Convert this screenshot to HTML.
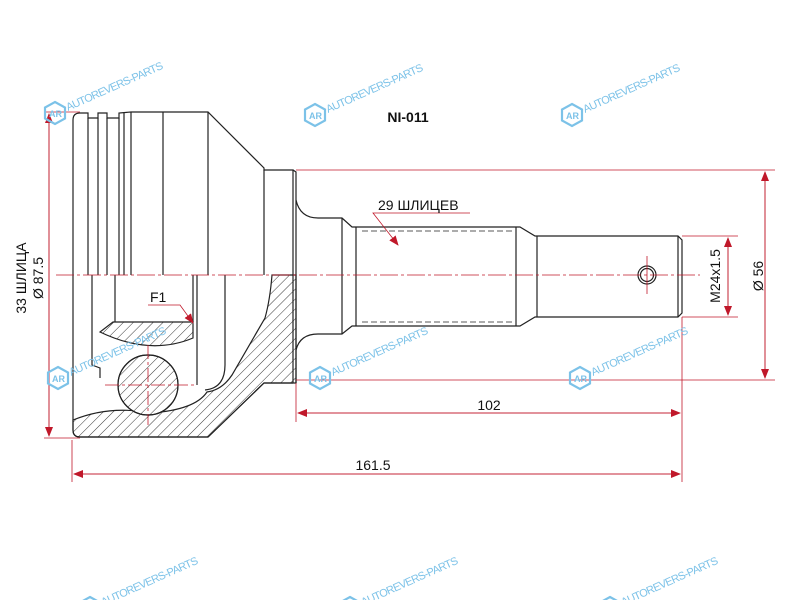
<!DOCTYPE html>
<html><head><meta charset="utf-8"><style>
html,body{margin:0;padding:0;background:#fff;}
svg{display:block;}
text{font-family:"Liberation Sans",sans-serif;}
.wm{fill:#7cc2e8;font-size:11px;}
</style></head><body>
<svg width="800" height="600" viewBox="0 0 800 600" xmlns="http://www.w3.org/2000/svg">
<defs>
<pattern id="h" patternUnits="userSpaceOnUse" width="7" height="7" patternTransform="rotate(45)">
<line x1="0" y1="0" x2="0" y2="7" stroke="#222" stroke-width="0.9"/>
</pattern>
<marker id="a" markerWidth="10" markerHeight="8" refX="9" refY="4" orient="auto" markerUnits="userSpaceOnUse">
<path d="M0,0 L10,4 L0,8 Z" fill="#c0182a"/>
</marker>
<g id="wm">
<path d="M0,-11 L10,-5.5 L10,5.5 L0,11 L-10,5.5 L-10,-5.5 Z" fill="none" stroke="#7cc2e8" stroke-width="2.2"/>
<text x="-6" y="4" font-size="9" fill="#7cc2e8" font-weight="bold">AR</text>
<text x="13" y="-2" class="wm" textLength="105" transform="rotate(-24 13 -2)">AUTOREVERS-PARTS</text>
</g>
</defs>

<g fill="none" stroke="#222" stroke-width="1.2">
<path d="M73,275 L73,120 Q73,113 80,113 L88,113 L88,118 L98,118 L98,113 L107,113 L107,118 L119,118 L119,113 L131,112 L208,112 L264,168 L264,170 L293,170 L293,383"/>
<line x1="88" y1="118" x2="88" y2="275"/>
<line x1="98" y1="118" x2="98" y2="275"/>
<line x1="107" y1="118" x2="107" y2="275"/>
<line x1="119" y1="118" x2="119" y2="275"/>
<line x1="124" y1="113" x2="124" y2="275"/>
<line x1="131" y1="112" x2="131" y2="275"/>
<line x1="163" y1="112" x2="163" y2="275"/>
<line x1="208" y1="112" x2="208" y2="275"/>
<line x1="264" y1="170" x2="264" y2="275"/>
<path d="M293,170 L296,172 L296,383"/>
<path d="M296,200 Q300,218 318,218 L342,218 L352,227 L520,227 L535,236 L678,236 L682,240 L682,313 L678,317 L535,317 L520,326 L352,326 L342,334 L318,334 Q300,334 296,350"/>
<line x1="356" y1="227" x2="356" y2="326"/>
<line x1="516" y1="227" x2="516" y2="326"/>
<line x1="537" y1="236" x2="537" y2="317"/>
<line x1="678" y1="236" x2="678" y2="317"/>
<line x1="342" y1="218" x2="342" y2="334"/>
<circle cx="647" cy="275" r="9"/>
<circle cx="647" cy="275" r="6.5"/>
<path d="M73,275 L73,430 Q73,437 80,437 L208,437 L264,383 L293,383"/>
<line x1="92" y1="275" x2="92" y2="350"/>
<line x1="115" y1="275" x2="115" y2="322"/>
<line x1="193" y1="275" x2="193" y2="322"/>
<line x1="197" y1="275" x2="197" y2="385"/>
<path d="M225,275 L225,365 Q225,388 205,390"/>
<path d="M92,350 L92,365 L100,368 L100,378"/>
</g>
<line x1="362" y1="231" x2="514" y2="231" stroke="#222" stroke-dasharray="6,3" stroke-width="0.8"/>
<line x1="362" y1="322" x2="514" y2="322" stroke="#222" stroke-dasharray="6,3" stroke-width="0.8"/>

<path d="M272,275 L296,275 L296,383 L264,383 L208,437 L80,437 Q73,437 73,430 L73,420 Q110,405 150,413 Q195,410 207,392 Q222,390 232,375 L265,318 Q270,300 272,275 Z" fill="url(#h)" stroke="#222" stroke-width="1.2"/>
<path d="M113,322 L193,322 L193,338 Q150,356 100,332 Z" fill="url(#h)" stroke="#222" stroke-width="1.2"/>
<circle cx="148" cy="385" r="30" fill="#fff" stroke="#222" stroke-width="1.2"/>
<circle cx="148" cy="385" r="30" fill="url(#h)" stroke="#222" stroke-width="1.2"/>

<g stroke="#c0182a" stroke-width="0.8" fill="none">
<line x1="56" y1="275" x2="700" y2="275" stroke-dasharray="18,3,3,3"/>
<line x1="148" y1="345" x2="148" y2="425" stroke-dasharray="14,3,3,3"/>
<line x1="105" y1="385" x2="195" y2="385" stroke-dasharray="14,3,3,3"/>
<line x1="647" y1="256" x2="647" y2="294"/>
<line x1="296" y1="170" x2="775" y2="170"/>
<line x1="296" y1="380" x2="775" y2="380"/>
<line x1="765" y1="172" x2="765" y2="378" marker-end="url(#a)"/>
<line x1="765" y1="378" x2="765" y2="172" marker-end="url(#a)"/>
<line x1="682" y1="236" x2="738" y2="236"/>
<line x1="682" y1="317" x2="738" y2="317"/>
<line x1="728" y1="238" x2="728" y2="315" marker-end="url(#a)"/>
<line x1="728" y1="315" x2="728" y2="238" marker-end="url(#a)"/>
<line x1="296" y1="383" x2="296" y2="422"/>
<line x1="682" y1="317" x2="682" y2="482"/>
<line x1="298" y1="413" x2="680" y2="413" marker-end="url(#a)"/>
<line x1="680" y1="413" x2="298" y2="413" marker-end="url(#a)"/>
<line x1="72" y1="440" x2="72" y2="482"/>
<line x1="74" y1="474" x2="680" y2="474" marker-end="url(#a)"/>
<line x1="680" y1="474" x2="74" y2="474" marker-end="url(#a)"/>
<line x1="44" y1="112" x2="80" y2="112"/>
<line x1="44" y1="438" x2="80" y2="438"/>
<line x1="49" y1="114" x2="49" y2="436" marker-end="url(#a)"/>
<line x1="49" y1="436" x2="49" y2="114" marker-end="url(#a)"/>
<path d="M470,213 L373,213 L398,245" marker-end="url(#a)"/>
<path d="M148,305 L180,305 L193,323" marker-end="url(#a)"/>
</g>

<text x="408" y="122" font-size="14" font-weight="bold" text-anchor="middle" fill="#111">NI-011</text>
<text x="378" y="210" font-size="14" fill="#111">29 ШЛИЦЕВ</text>
<text x="150" y="302" font-size="14" fill="#111">F1</text>
<text x="489" y="410" font-size="14" text-anchor="middle" fill="#111">102</text>
<text x="373" y="470" font-size="14" text-anchor="middle" fill="#111">161.5</text>
<text transform="translate(26,278) rotate(-90)" font-size="14" text-anchor="middle" fill="#111">33 ШЛИЦА</text>
<text transform="translate(43,278) rotate(-90)" font-size="14" text-anchor="middle" fill="#111">Ø 87.5</text>
<text transform="translate(720,276) rotate(-90)" font-size="14" text-anchor="middle" fill="#111">M24x1.5</text>
<text transform="translate(763,276) rotate(-90)" font-size="14" text-anchor="middle" fill="#111">Ø 56</text>

<use href="#wm" x="55" y="113"/>
<use href="#wm" x="315" y="115"/>
<use href="#wm" x="572" y="115"/>
<use href="#wm" x="58" y="378"/>
<use href="#wm" x="320" y="378"/>
<use href="#wm" x="580" y="378"/>
<use href="#wm" x="90" y="608"/>
<use href="#wm" x="350" y="608"/>
<use href="#wm" x="610" y="608"/>
</svg>
</body></html>
